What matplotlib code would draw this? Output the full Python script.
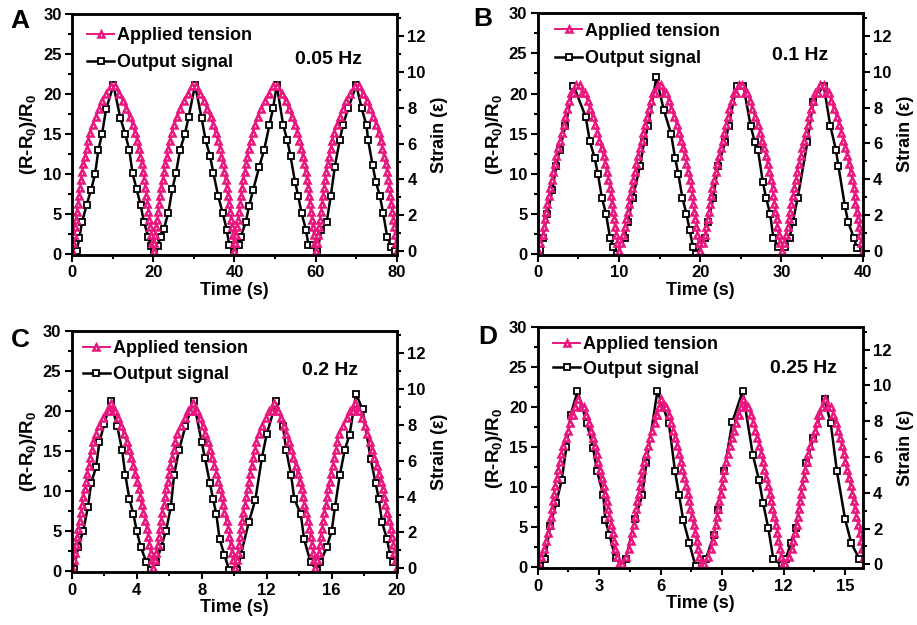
import numpy as np
import matplotlib.pyplot as plt
from matplotlib.ticker import MultipleLocator

plt.rcParams['font.family'] = 'Liberation Sans'
plt.rcParams['font.weight'] = 'bold'
plt.rcParams['mathtext.fontset'] = 'custom'
plt.rcParams['mathtext.rm'] = 'Liberation Sans:bold'
plt.rcParams['mathtext.bf'] = 'Liberation Sans:bold'
plt.rcParams['mathtext.default'] = 'bf'

pink = '#E8177D'

# panel info
panel_letters = ['A', 'B', 'C', 'D']
freq_labels = ['0.05 Hz', '0.1 Hz', '0.2 Hz', '0.25 Hz']
x_max = [80, 40, 20, 15.86]
x_step = [20, 10, 4, 3]

# applied tension: time of each triangle and its strain step (1 step = 0.44 strain)
strain_step = 0.44

ten_t_A = [0.0, 0.2, 0.45, 0.7, 0.95, 1.2, 1.45, 1.7, 1.95, 2.2, 2.5, 2.8, 3.2, 3.6, 4.0, 4.5, 5.1, 5.8, 6.6, 7.4, 8.4, 9.5,
           10.5, 11.6, 12.6, 13.4, 14.2, 14.9, 15.5, 16.0, 16.4, 16.8, 17.2, 17.5, 17.8, 18.05, 18.3, 18.55, 18.8, 19.05, 19.3, 19.55, 19.8,
           20.1, 20.3, 20.5, 20.75, 21.0, 21.25, 21.5, 21.75, 22.0, 22.3, 22.6, 22.9, 23.3, 23.7, 24.1, 24.6, 25.2, 25.9, 26.7, 27.5, 28.5, 29.6,
           30.6, 31.6, 32.5, 33.3, 34.1, 34.8, 35.4, 35.9, 36.4, 36.8, 37.2, 37.5, 37.8, 38.1, 38.35, 38.6, 38.85, 39.1, 39.35, 39.6, 39.8,
           40.0, 40.2, 40.45, 40.7, 40.95, 41.2, 41.45, 41.7, 41.95, 42.2, 42.5, 42.8, 43.2, 43.6, 44.0, 44.5, 45.1, 45.8, 46.6, 47.4, 48.4, 49.5,
           50.5, 51.6, 52.6, 53.4, 54.2, 54.9, 55.5, 56.0, 56.4, 56.8, 57.2, 57.5, 57.8, 58.05, 58.3, 58.55, 58.8, 59.05, 59.3, 59.55, 59.8,
           60.1, 60.3, 60.55, 60.8, 61.05, 61.3, 61.55, 61.8, 62.05, 62.3, 62.6, 62.9, 63.3, 63.7, 64.1, 64.6, 65.2, 65.9, 66.7, 67.5, 68.5, 69.6,
           70.6, 71.6, 72.6, 73.4, 74.2, 74.9, 75.5, 76.0, 76.4, 76.8, 77.2, 77.5, 77.8, 78.05, 78.3, 78.55, 78.8, 79.05, 79.3, 79.55, 79.8,
           80.0]
ten_lv_A = [0,1,2,3,4,5,6,7,8,9,10,11,12,13,14,15,16,17,18,19,20,21,21,20,19,18,17,16,15,14,13,12,11,10,9,8,7,6,5,4,3,2,1,
            0,1,2,3,4,5,6,7,8,9,10,11,12,13,14,15,16,17,18,19,20,21,21,20,19,18,17,16,15,14,13,12,11,10,9,8,7,6,5,4,3,2,1,
            0,1,2,3,4,5,6,7,8,9,10,11,12,13,14,15,16,17,18,19,20,21,21,20,19,18,17,16,15,14,13,12,11,10,9,8,7,6,5,4,3,2,1,
            0,1,2,3,4,5,6,7,8,9,10,11,12,13,14,15,16,17,18,19,20,21,21,20,19,18,17,16,15,14,13,12,11,10,9,8,7,6,5,4,3,2,1,
            0]

ten_t_B = [0.0, 0.3, 0.6, 0.75, 0.9, 1.05, 1.2, 1.35, 1.5, 1.7, 1.9, 2.1, 2.3, 2.5, 2.75, 2.95, 3.2, 3.4, 3.6, 3.85, 4.1,
           4.4, 4.75, 5.15, 5.5, 5.8,
           6.15, 6.4, 6.75, 7.1, 7.35, 7.6, 7.85, 8.1, 8.3, 8.5, 8.7, 8.9, 9.0, 9.1, 9.25, 9.4, 9.5, 9.65, 9.8,
           10.05, 10.3, 10.55, 10.7, 10.9, 11.05, 11.2, 11.35, 11.55, 11.75, 11.95, 12.15, 12.35, 12.55, 12.8, 13.0, 13.25, 13.45, 13.65, 13.9, 14.15,
           14.45, 14.8, 15.2, 15.5, 15.8,
           16.15, 16.45, 16.8, 17.1, 17.35, 17.6, 17.85, 18.1, 18.3, 18.5, 18.7, 18.9, 19.0, 19.1, 19.25, 19.4, 19.5, 19.65, 19.8,
           20.0, 20.3, 20.6, 20.75, 20.9, 21.05, 21.2, 21.35, 21.5, 21.7, 21.9, 22.1, 22.3, 22.5, 22.75, 22.95, 23.2, 23.4, 23.6, 23.85, 24.1,
           24.4, 24.75, 25.15, 25.5, 25.8,
           26.15, 26.4, 26.75, 27.1, 27.35, 27.6, 27.85, 28.1, 28.3, 28.5, 28.7, 28.9, 29.0, 29.1, 29.25, 29.4, 29.5, 29.65, 29.8,
           30.05, 30.35, 30.6, 30.75, 30.9, 31.05, 31.2, 31.4, 31.55, 31.75, 31.95, 32.15, 32.35, 32.55, 32.8, 33.0, 33.25, 33.45, 33.65, 33.9, 34.15,
           34.45, 34.8, 35.2, 35.5, 35.8,
           36.15, 36.45, 36.8, 37.1, 37.35, 37.6, 37.85, 38.1, 38.3, 38.5, 38.7, 38.9, 39.0, 39.1, 39.25, 39.4, 39.5, 39.65, 39.8,
           40.0]
ten_lv_B = [0,1,2,3,4,5,6,7,8,9,10,11,12,13,14,15,16,17,18,19,20,20,21,21,20,20,19,18,17,16,15,14,13,12,11,10,9,8,7,6,5,4,3,2,1,
            0,1,2,3,4,5,6,7,8,9,10,11,12,13,14,15,16,17,18,19,20,20,21,21,20,20,19,18,17,16,15,14,13,12,11,10,9,8,7,6,5,4,3,2,1,
            0,1,2,3,4,5,6,7,8,9,10,11,12,13,14,15,16,17,18,19,20,20,21,21,20,20,19,18,17,16,15,14,13,12,11,10,9,8,7,6,5,4,3,2,1,
            0,1,2,3,4,5,6,7,8,9,10,11,12,13,14,15,16,17,18,19,20,20,21,21,20,20,19,18,17,16,15,14,13,12,11,10,9,8,7,6,5,4,3,2,1,
            0]

ten_t_C = [0.0, 0.12, 0.2, 0.28, 0.34, 0.4, 0.48, 0.55, 0.65, 0.72, 0.8, 0.88, 0.95, 1.05, 1.15, 1.25, 1.33, 1.48, 1.68, 1.95, 2.15,
           2.3, 2.42, 2.55, 2.68,
           2.85, 3.05, 3.2, 3.38, 3.5, 3.63, 3.78, 3.9, 4.03, 4.15, 4.23, 4.3, 4.4, 4.53, 4.63, 4.7, 4.78, 4.85, 4.93,
           5.0, 5.1, 5.2, 5.28, 5.35, 5.42, 5.5, 5.57, 5.66, 5.74, 5.82, 5.9, 5.98, 6.07, 6.17, 6.27, 6.36, 6.5, 6.7, 6.95, 7.15,
           7.3, 7.45, 7.58, 7.7,
           7.88, 8.05, 8.2, 8.38, 8.5, 8.63, 8.78, 8.9, 9.03, 9.15, 9.23, 9.3, 9.4, 9.53, 9.63, 9.7, 9.78, 9.85, 9.93,
           10.05, 10.15, 10.22, 10.3, 10.36, 10.42, 10.5, 10.57, 10.67, 10.74, 10.82, 10.9, 10.97, 11.07, 11.17, 11.27, 11.35, 11.5, 11.7, 11.97, 12.17,
           12.32, 12.44, 12.57, 12.7,
           12.87, 13.05, 13.2, 13.38, 13.5, 13.63, 13.78, 13.9, 14.03, 14.15, 14.23, 14.3, 14.4, 14.53, 14.63, 14.7, 14.78, 14.85, 14.93,
           15.0, 15.12, 15.2, 15.28, 15.34, 15.4, 15.48, 15.55, 15.65, 15.72, 15.8, 15.88, 15.95, 16.05, 16.15, 16.25, 16.33, 16.48, 16.68, 16.95, 17.15,
           17.3, 17.42, 17.55, 17.68,
           17.85, 18.05, 18.2, 18.38, 18.5, 18.63, 18.78, 18.9, 19.03, 19.15, 19.23, 19.3, 19.4, 19.53, 19.63, 19.7, 19.78, 19.85, 19.93,
           20.0]
ten_lv_C = [0,1,2,3,4,5,6,7,8,9,10,11,12,13,14,15,16,17,18,19,20,20,21,20,20,19,18,17,16,15,14,13,12,11,10,9,8,7,6,5,4,3,2,1,
            0,1,2,3,4,5,6,7,8,9,10,11,12,13,14,15,16,17,18,19,20,20,21,20,20,19,18,17,16,15,14,13,12,11,10,9,8,7,6,5,4,3,2,1,
            0,1,2,3,4,5,6,7,8,9,10,11,12,13,14,15,16,17,18,19,20,20,21,20,20,19,18,17,16,15,14,13,12,11,10,9,8,7,6,5,4,3,2,1,
            0,1,2,3,4,5,6,7,8,9,10,11,12,13,14,15,16,17,18,19,20,20,21,20,20,19,18,17,16,15,14,13,12,11,10,9,8,7,6,5,4,3,2,1,
            0]

ten_t_D = [0.0, 0.18, 0.33, 0.42, 0.48, 0.58, 0.63, 0.68, 0.74, 0.8, 0.86, 0.92, 0.99, 1.07, 1.15, 1.24, 1.38, 1.48, 1.58, 1.64,
           1.72, 1.82, 1.97, 2.12, 2.25, 2.38,
           2.5, 2.6, 2.7, 2.8, 2.88, 2.96, 3.04, 3.12, 3.22, 3.3, 3.37, 3.43, 3.5, 3.6, 3.66, 3.73, 3.79, 3.86, 3.95,
           4.12, 4.3, 4.45, 4.54, 4.6, 4.7, 4.75, 4.8, 4.86, 4.92, 4.98, 5.04, 5.11, 5.19, 5.27, 5.36, 5.5, 5.6, 5.7, 5.76,
           5.84, 5.92, 6.02, 6.15, 6.27, 6.4,
           6.52, 6.62, 6.72, 6.82, 6.9, 6.98, 7.06, 7.14, 7.24, 7.32, 7.39, 7.45, 7.52, 7.62, 7.68, 7.75, 7.81, 7.88, 7.96,
           8.12, 8.3, 8.45, 8.54, 8.6, 8.7, 8.75, 8.8, 8.86, 8.92, 8.98, 9.04, 9.11, 9.19, 9.27, 9.36, 9.5, 9.6, 9.7, 9.76,
           9.84, 9.92, 10.02, 10.15, 10.27, 10.4,
           10.52, 10.62, 10.72, 10.82, 10.9, 10.98, 11.06, 11.14, 11.24, 11.32, 11.39, 11.45, 11.52, 11.62, 11.68, 11.75, 11.81, 11.88, 11.96,
           12.08, 12.25, 12.4, 12.48, 12.54, 12.64, 12.69, 12.74, 12.8, 12.86, 12.92, 12.98, 13.05, 13.13, 13.21, 13.3, 13.44, 13.54, 13.64, 13.7,
           13.78, 13.87, 14.02, 14.17, 14.3, 14.43,
           14.55, 14.65, 14.75, 14.85, 14.93, 15.01, 15.09, 15.17, 15.27, 15.35, 15.42, 15.48, 15.55, 15.65, 15.71, 15.78, 15.84, 15.91, 15.99]
ten_lv_D = [0,1,2,3,4,5,6,7,8,9,10,11,12,13,14,15,16,17,18,19,19,20,21,20,20,19,18,17,16,15,14,13,12,11,10,9,8,7,6,5,4,3,2,1,0,
            0,1,2,3,4,5,6,7,8,9,10,11,12,13,14,15,16,17,18,19,19,20,21,20,20,19,18,17,16,15,14,13,12,11,10,9,8,7,6,5,4,3,2,1,0,
            0,1,2,3,4,5,6,7,8,9,10,11,12,13,14,15,16,17,18,19,19,20,21,20,20,19,18,17,16,15,14,13,12,11,10,9,8,7,6,5,4,3,2,1,0,
            0,1,2,3,4,5,6,7,8,9,10,11,12,13,14,15,16,17,18,19,19,20,21,20,20,19,18,17,16,15,14,13,12,11,10,9,8,7,6,5,4,3,2,1,0]

# output signal (R-R0)/R0
out_t_A = [0.2, 1.2, 1.8, 2.5, 3.6, 4.7, 5.7, 6.5, 7.4, 8.4, 10.2, 11.9, 13.1, 14.1, 14.9, 15.9, 16.9, 17.7, 18.8, 19.4,
           20.2, 21.1, 21.8, 22.6, 23.7, 24.7, 25.6, 26.6, 27.8, 28.7, 30.3, 31.9, 32.9, 34.0, 34.8, 36.0, 37.1, 38.1, 38.7,
           40.0, 41.0, 41.5, 42.8, 43.6, 44.6, 46.1, 47.3, 48.6, 49.5, 50.4, 52.0, 53.0, 53.8, 54.9, 55.7, 56.5, 57.6, 58.2, 59.4,
           60.4, 61.4, 62.7, 63.7, 64.7, 65.9, 66.7, 68.0, 70.0, 71.3, 72.5, 72.9, 74.0, 74.8, 75.8, 76.6, 77.6, 78.6, 79.4]
out_v_A = [0.2, 0.4, 2.0, 4.0, 6.1, 8.0, 10.0, 13.0, 15.0, 18.1, 21.1, 17.0, 15.0, 13.0, 10.1, 8.1, 6.1, 4.0, 2.1, 1.0,
           0.3, 1.0, 2.1, 3.1, 5.1, 8.1, 10.1, 13.0, 15.0, 17.1, 21.1, 17.0, 14.2, 12.2, 10.1, 7.2, 5.1, 3.0, 1.1,
           0.2, 1.1, 2.1, 4.0, 6.0, 8.0, 10.9, 13.0, 16.1, 18.2, 21.1, 16.1, 14.2, 12.2, 9.0, 7.2, 5.1, 3.0, 1.1, 1.1,
           0.3, 3.0, 4.0, 7.2, 10.9, 14.2, 16.1, 18.2, 21.1, 18.2, 16.1, 14.2, 11.1, 9.0, 7.2, 5.1, 2.1, 0.9, 0.4]

out_t_B = [0.3, 0.6, 1.2, 1.8, 2.3, 2.7, 3.4, 4.4, 5.9, 6.4, 7.0, 7.4, 7.9, 8.4, 8.9, 9.3, 9.8,
           10.7, 11.1, 11.7, 12.6, 13.1, 13.6, 14.6, 15.5, 16.4, 16.9, 17.3, 17.8, 18.3, 18.7, 19.1, 19.5,
           20.6, 21.0, 21.6, 22.2, 23.1, 23.5, 24.5, 25.3, 26.2, 26.7, 27.1, 27.7, 28.1, 28.6, 29.0, 29.6,
           30.4, 31.0, 31.4, 32.0, 33.2, 33.9, 35.2, 36.0, 36.7, 37.0, 37.8, 38.2, 38.9, 39.3]
out_v_B = [0.5, 2.0, 5.0, 8.0, 11.0, 13.0, 15.9, 21.0, 17.1, 14.1, 12.0, 10.0, 7.0, 5.0, 2.0, 0.9, 0.0,
           2.0, 4.0, 7.0, 11.0, 14.0, 16.0, 22.0, 18.0, 15.0, 12.0, 10.0, 7.0, 5.0, 3.0, 0.9, 0.0,
           2.0, 4.0, 7.0, 11.0, 14.0, 16.0, 21.0, 21.0, 16.0, 14.0, 13.0, 9.0, 7.0, 5.0, 2.0, 0.9,
           0.9, 2.0, 4.0, 7.0, 14.0, 19.0, 21.0, 16.0, 13.0, 11.0, 6.0, 4.0, 2.0, 0.7]

out_t_C = [0.14, 0.4, 0.7, 1.0, 1.2, 1.5, 1.7, 2.0, 2.4, 2.8, 3.1, 3.3, 3.55, 3.8, 4.0, 4.25, 4.6,
           4.86, 5.2, 5.5, 5.8, 6.1, 6.3, 6.6, 7.0, 7.5, 8.0, 8.2, 8.5, 8.7, 8.9, 9.1, 9.4, 9.7,
           10.2, 10.4, 10.9, 11.3, 11.7, 12.0, 12.6, 13.0, 13.2, 13.5, 13.7, 14.1, 14.3, 14.7,
           15.1, 15.3, 15.7, 16.0, 16.2, 16.5, 16.8, 17.1, 17.5, 17.9, 18.4, 18.7, 18.9, 19.1, 19.4, 19.6, 19.8]
out_v_C = [0.3, 3.0, 5.0, 8.0, 11.0, 13.0, 16.1, 18.3, 21.2, 18.1, 15.1, 12.0, 9.0, 7.1, 5.0, 3.0, 1.1,
           0.1, 1.1, 3.0, 5.0, 8.0, 12.0, 15.1, 18.1, 21.2, 16.1, 14.1, 11.0, 9.0, 7.1, 4.0, 2.0, 0.1,
           0.1, 2.0, 6.1, 8.9, 14.1, 17.1, 21.2, 18.1, 15.1, 12.0, 9.0, 7.1, 4.0, 1.1,
           0.1, 1.1, 3.0, 5.0, 8.0, 12.0, 15.1, 17.0, 22.1, 20.2, 14.0, 11.0, 9.0, 6.1, 4.0, 2.0, 1.1]

out_t_D = [0.1, 0.36, 0.6, 0.9, 1.17, 1.4, 1.6, 1.94, 2.4, 2.7, 2.9, 3.2, 3.3, 3.5, 3.8,
           4.1, 4.3, 4.75, 5.1, 5.3, 5.84, 6.4, 6.7, 6.9, 7.1, 7.4, 7.7,
           8.2, 8.6, 8.8, 9.1, 9.5, 10.0, 10.5, 10.8, 11.0, 11.25, 11.5,
           11.9, 12.1, 12.35, 12.6, 13.1, 13.45, 14.0, 14.3, 14.6, 15.0, 15.3, 15.7]
out_v_D = [0.1, 1.0, 5.1, 8.0, 10.9, 15.0, 19.0, 22.0, 18.0, 14.9, 12.0, 9.0, 5.9, 4.0, 1.1,
           0.3, 1.0, 6.0, 9.0, 13.0, 22.0, 18.0, 12.0, 9.0, 5.9, 3.0, 0.1,
           1.0, 4.0, 7.2, 12.0, 18.2, 22.0, 14.0, 10.9, 8.0, 4.9, 1.0,
           0.3, 1.0, 3.0, 4.9, 13.0, 16.1, 21.0, 18.0, 12.0, 6.0, 3.0, 1.0]

ten_t_all = [ten_t_A, ten_t_B, ten_t_C, ten_t_D]
ten_lv_all = [ten_lv_A, ten_lv_B, ten_lv_C, ten_lv_D]
out_t_all = [out_t_A, out_t_B, out_t_C, out_t_D]
out_v_all = [out_v_A, out_v_B, out_v_C, out_v_D]

boxes = [[0.0785, 0.592, 0.3544, 0.3856],
         [0.5864, 0.592, 0.3544, 0.3866],
         [0.0782, 0.0843, 0.3544, 0.3866],
         [0.5864, 0.0907, 0.3544, 0.3856]]
letter_pos = [(0.022, 0.966), (0.526, 0.969), (0.022, 0.456), (0.532, 0.461)]
legend_pos = [(0.047, 0.945), (0.054, 0.962), (0.034, 0.96), (0.047, 0.962)]
freq_pos = [(0.79, 0.81), (0.807, 0.827), (0.795, 0.837), (0.817, 0.83)]
legend_gap = [0.56, 0.6, 0.48, 0.4]


def style_ticks(axis, side):
    axis.tick_params(which='both', direction='out', width=1.5, labelsize=12,
                     top=False, bottom=(side == 'left'), left=(side == 'left'), right=(side == 'right'),
                     labelleft=(side == 'left'), labelright=(side == 'right'), labelbottom=(side == 'left'))
    axis.tick_params(which='major', length=5, pad=2.5)
    axis.tick_params(which='minor', length=3)
    for sp in axis.spines.values():
        sp.set_linewidth(1.8)


fig = plt.figure(figsize=(9.17, 6.25), dpi=100)

for i in range(4):
    ax = fig.add_axes(boxes[i])
    out_line, = ax.plot(out_t_all[i], out_v_all[i], '-s', color='black', mfc='white', mec='black',
                        ms=4.5, mew=1.3, lw=1.8)
    ax.set_xlim(0, x_max[i])
    ax.set_ylim(-0.15, 30)
    ax.xaxis.set_major_locator(MultipleLocator(x_step[i]))
    ax.xaxis.set_minor_locator(MultipleLocator(x_step[i] / 2))
    ax.yaxis.set_major_locator(MultipleLocator(5))
    ax.yaxis.set_minor_locator(MultipleLocator(2.5))
    ax.set_xlabel('Time (s)', fontsize=13, fontweight='bold', labelpad=1)
    ax.set_ylabel(r'(R-R$_0$)/R$_0$', fontsize=13.5, fontweight='bold', labelpad=3)
    style_ticks(ax, 'left')

    ax2 = ax.twinx()
    n = min(len(ten_t_all[i]), len(ten_lv_all[i]))
    strain = np.array(ten_lv_all[i][:n]) * strain_step
    ten_line, = ax2.plot(ten_t_all[i][:n], strain, '-^', color=pink, mfc='white', mec=pink,
                         ms=5, mew=1.8, lw=1.4)
    ax2.set_ylim(-0.22, 13.25)
    ax2.yaxis.set_major_locator(MultipleLocator(2))
    ax2.yaxis.set_minor_locator(MultipleLocator(1))
    ax2.set_ylabel('Strain (\u03b5)', fontsize=13, fontweight='bold', labelpad=4)
    style_ticks(ax2, 'right')

    ax2.legend([ten_line, out_line], ['Applied tension', 'Output signal'], loc='upper left',
               bbox_to_anchor=legend_pos[i], frameon=False, borderpad=0, borderaxespad=0,
               handlelength=1.5, handletextpad=0.15, labelspacing=legend_gap[i],
               prop={'size': 13, 'weight': 'bold'})
    ax2.text(freq_pos[i][0], freq_pos[i][1], freq_labels[i], transform=ax2.transAxes,
             ha='center', va='center', fontsize=14, fontweight='bold')
    fig.text(letter_pos[i][0], letter_pos[i][1], panel_letters[i], ha='center', va='center',
             fontsize=19, fontweight='bold')

fig.savefig('out.png', dpi=100)
